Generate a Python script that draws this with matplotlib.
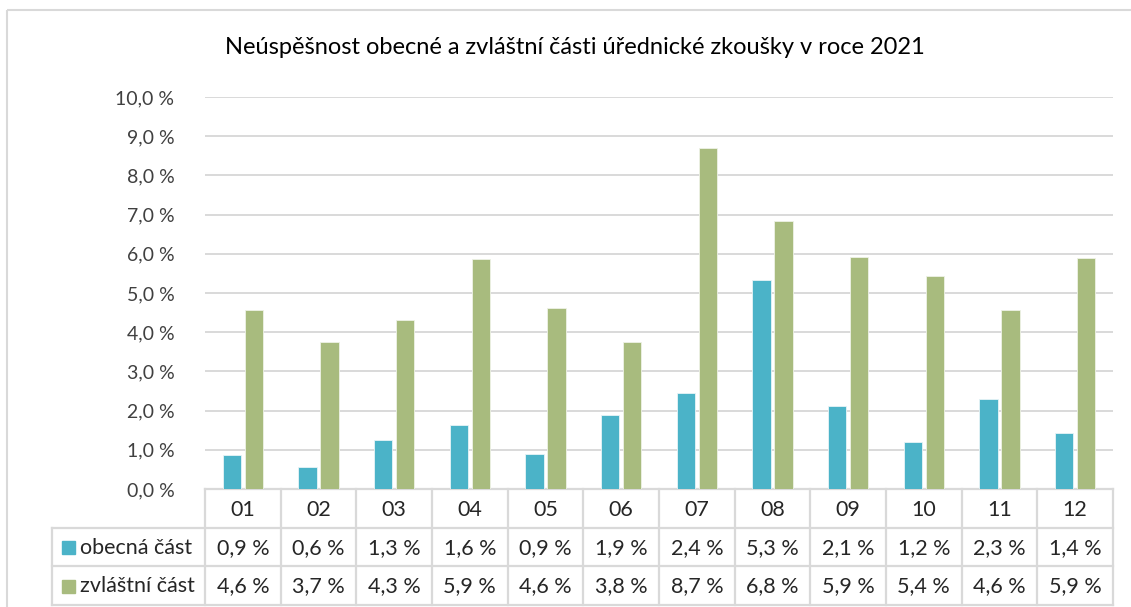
import matplotlib
matplotlib.use("Agg")
import matplotlib.pyplot as plt
import matplotlib.transforms as mtransforms
from matplotlib.patches import Rectangle
import numpy as np

plt.rcParams['font.family'] = ['Lato', 'DejaVu Sans']

title = "Neúspěšnost obecné a zvláštní části úřednické zkoušky v roce 2021"
months = ["01", "02", "03", "04", "05", "06", "07", "08", "09", "10", "11", "12"]
series_names = ["obecná část", "zvláštní část"]
obecna = [0.87, 0.56, 1.26, 1.63, 0.90, 1.88, 2.44, 5.33, 2.13, 1.21, 2.29, 1.44]
zvlastni = [4.57, 3.74, 4.32, 5.86, 4.62, 3.76, 8.71, 6.83, 5.93, 5.43, 4.56, 5.90]
yticks = [0, 1, 2, 3, 4, 5, 6, 7, 8, 9, 10]
colors = ["#4bb3c8", "#a8bb7e"]
grid_c = "#d9d9d9"

W, H = 1131, 607
fig = plt.figure(figsize=(W / 100, H / 100), dpi=100)

# overlay in pixel coords
over = fig.add_axes([0, 0, 1, 1], zorder=0)
over.set_xlim(0, W)
over.set_ylim(H, 0)
over.axis("off")
over.add_patch(Rectangle((7, 10), W + 10, H + 10, fill=False, ec=grid_c, lw=1.5))

left, right, top, bottom = 205, 1113, 97, 489
ax = fig.add_axes([left / W, (H - bottom) / H, (right - left) / W, (bottom - top) / H], zorder=1)
ax.patch.set_alpha(0)
x = np.arange(len(months))
bw = 0.245
off = 0.145
ax.bar(x - off, obecna, bw, color=colors[0], edgecolor="#e8f4f7", linewidth=0.6, zorder=3)
ax.bar(x + off, zvlastni, bw, color=colors[1], edgecolor="#eef2e6", linewidth=0.6, zorder=3)
ax.set_xlim(-0.5, len(months) - 0.5)
ax.set_ylim(0, 10)
ax.set_yticks(yticks)
ax.set_yticklabels([f"{v:.1f}".replace(".", ",") + " %" for v in yticks], fontsize=14, color="#404040")
ax.tick_params(axis="y", length=0, pad=22)
ax.set_xticks([])
ax.grid(axis="y", color=grid_c, lw=1.4, zorder=0)
for s in ax.spines.values():
    s.set_visible(False)

fig.text(575 / W, 1 - 47 / H, title, ha="center", va="center", fontsize=17, color="#000000")

# table
bt = mtransforms.blended_transform_factory(ax.transData, over.transData)
rows_y = [489, 528, 566, 605]
leg_x = 52
tcol = "#262626"
lw = 1.6
# horizontal lines
over.plot([left, right], [rows_y[0], rows_y[0]], color=grid_c, lw=lw, zorder=2)
for yy in rows_y[1:]:
    over.plot([leg_x, right], [yy, yy], color=grid_c, lw=lw, zorder=2)
# vertical lines
for b in np.arange(len(months) + 1) - 0.5:
    ax.plot([b, b], [rows_y[0], rows_y[-1]], color=grid_c, lw=lw, transform=bt, clip_on=False, zorder=2)
over.plot([leg_x, leg_x], [rows_y[1], rows_y[-1]], color=grid_c, lw=lw, zorder=2)

fs = 15.5
for i, m in enumerate(months):
    ax.text(i, (rows_y[0] + rows_y[1]) / 2 + 1, m, transform=bt, ha="center", va="center", fontsize=fs, color=tcol)
    ax.text(i, (rows_y[1] + rows_y[2]) / 2 + 1, f"{obecna[i]:.1f}".replace(".", ",") + " %", transform=bt,
            ha="center", va="center", fontsize=fs, color=tcol)
    ax.text(i, (rows_y[2] + rows_y[3]) / 2 + 1, f"{zvlastni[i]:.1f}".replace(".", ",") + " %", transform=bt,
            ha="center", va="center", fontsize=fs, color=tcol)

for r, (name, c) in enumerate(zip(series_names, colors)):
    yc = (rows_y[r + 1] + rows_y[r + 2]) / 2
    over.add_patch(Rectangle((62, yc - 6), 13, 13, color=c, zorder=3))
    over.text(80, yc + 1, name, ha="left", va="center", fontsize=fs, color=tcol)

fig.savefig("out.png", dpi=100)
